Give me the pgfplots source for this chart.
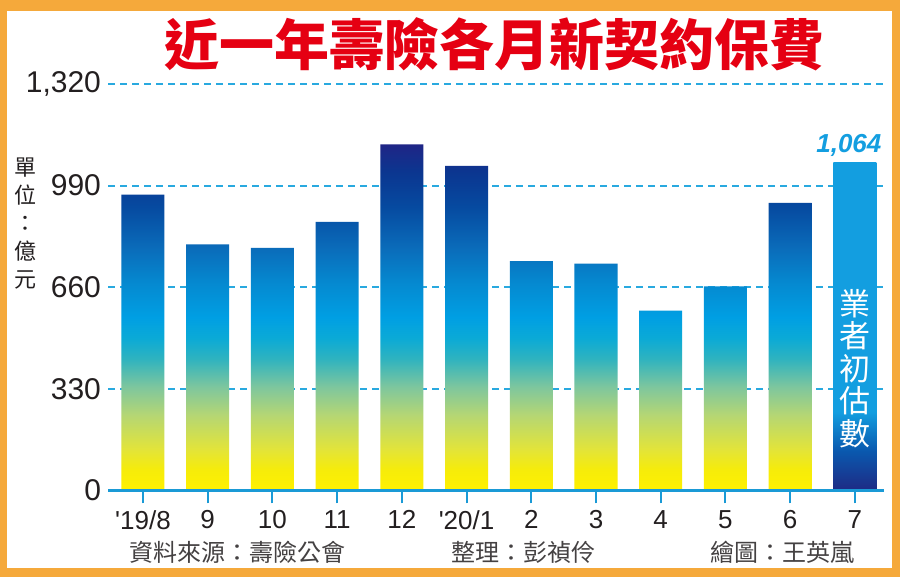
\documentclass[border=0pt]{standalone}
\usepackage{pgfplots}
\pgfplotsset{compat=1.18}
\usepackage{fontspec}
\setmainfont{Liberation Sans}
\newfontfamily\cjk{Noto Sans CJK TC}
\definecolor{framec}{HTML}{F5A93B}
\definecolor{titlec}{HTML}{E50012}
\definecolor{gridc}{HTML}{29A9DF}
\definecolor{axisc}{HTML}{1A9AD6}
\definecolor{txt}{HTML}{231F20}
\definecolor{lblue}{HTML}{139EE0}
\definecolor{s0}{HTML}{FFF100}
\definecolor{s1}{HTML}{F6EC0A}
\definecolor{s2}{HTML}{E2E43A}
\definecolor{s3}{HTML}{B4D675}
\definecolor{s4}{HTML}{7DC69E}
\definecolor{s5}{HTML}{2FB3BF}
\definecolor{s6}{HTML}{0BAAD6}
\definecolor{s7}{HTML}{009FE3}
\definecolor{s8}{HTML}{0589D0}
\definecolor{s9}{HTML}{0A6CBA}
\definecolor{s10}{HTML}{064AA0}
\definecolor{s11}{HTML}{0B3690}
\definecolor{s12}{HTML}{1F2586}
\definecolor{l0}{HTML}{1E2A84}
\definecolor{l1}{HTML}{0A58AE}
\pgfdeclareverticalshading{barshade}{100bp}{color(0bp)=(s0); color(25bp)=(s0); color(28bp)=(s1); color(31bp)=(s2); color(36bp)=(s3); color(40bp)=(s4); color(44bp)=(s5); color(47bp)=(s6); color(50bp)=(s7); color(55bp)=(s8); color(60bp)=(s9); color(66bp)=(s10); color(71bp)=(s11); color(75bp)=(s12); color(100bp)=(s12)}
\pgfdeclareverticalshading{lastshade}{100bp}{color(0bp)=(l0); color(25bp)=(l0); color(31bp)=(l1); color(37bp)=(lblue); color(100bp)=(lblue)}
\begin{document}
\begin{tikzpicture}
\fill[framec] (0,0) rectangle (450pt,288.5pt);
\fill[white] (3.5pt,4.5pt) rectangle (446pt,283pt);
\node[text=titlec, font=\cjk\bfseries\fontsize{27.5}{30}\selectfont] at (247pt,266.5pt) {近一年壽險各月新契約保費};
\node[text=txt, font=\cjk\fontsize{11}{14}\selectfont, align=center] at (12.5pt,176.5pt) {單\\位\\：\\億\\元};
\node[text=txt!85, font=\cjk\fontsize{12}{14}\selectfont] at (118.5pt,12.5pt) {資料來源：壽險公會};
\node[text=txt!85, font=\cjk\fontsize{12}{14}\selectfont] at (261.5pt,12.5pt) {整理：彭禎伶};
\node[text=txt!85, font=\cjk\fontsize{12}{14}\selectfont] at (391.25pt,12.5pt) {繪圖：王英嵐};
\begin{axis}[at={(54pt,43.25pt)}, anchor=south west, scale only axis,
  width=388pt, height=203.25pt,
  xmin=-0.54, xmax=11.45, ymin=0, ymax=1320,
  xtick={0,...,11},
  xticklabels={\textquotesingle19/8,9,10,11,12,\textquotesingle20/1,2,3,4,5,6,7},
  ytick={0,330,660,990,1320}, yticklabels={0,330,660,990,{1,320}},
  axis x line*=bottom, axis y line*=left,
  x axis line style={axisc, line width=1.5pt, -},
  y axis line style={draw=none},
  xtick align=outside, major tick length=6.5pt,
  xtick style={axisc, line width=1pt},
  ytick style={draw=none},
  ymajorgrids, grid style={gridc, line width=1pt, dash pattern=on 3.6pt off 2.4pt},
  xticklabel style={font=\fontsize{13}{15}\selectfont, text=txt},
  yticklabel style={font=\fontsize{15}{17}\selectfont, text=txt},
  clip=false,
]
\addplot[ybar, bar width=0.665, bar shift=0pt, draw=none, shading=barshade]
  coordinates {(0,961) (1,799) (2,788) (3,872) (4,1124) (5,1054) (6,745) (7,737) (8,584) (9,663) (10,934)};
\addplot[ybar, bar width=0.665, bar shift=0pt, draw=none, shading=lastshade,
  nodes near coords={1,064},
  every node near coord/.style={anchor=base, yshift=5pt, xshift=-3pt, text=lblue, font=\fontsize{13}{15}\selectfont\bfseries\itshape}]
  coordinates {(11,1064)};
\node[text=white, font=\cjk\fontsize{15.5}{16.3}\selectfont, align=center] at (axis cs:11,396) {業\\者\\初\\估\\數};
\draw[axisc, line width=1.5pt] (axis cs:-0.54,0) -- (axis cs:11.45,0);
\end{axis}
\end{tikzpicture}
\end{document}
